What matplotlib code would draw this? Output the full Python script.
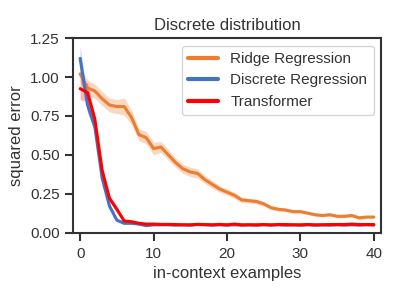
import matplotlib
matplotlib.use('Agg')
import matplotlib.pyplot as plt
import seaborn as sns
import numpy as np

sns.set_theme(style="ticks", context="notebook")
plt.rcParams['font.family'] = ['Liberation Sans', 'DejaVu Sans']

examples = list(range(41))
ridge = [1.02, 0.93, 0.91, 0.86, 0.82, 0.81, 0.81, 0.74, 0.63, 0.61,
         0.54, 0.55, 0.50, 0.45, 0.41, 0.39, 0.38, 0.34, 0.31, 0.28,
         0.26, 0.24, 0.21, 0.205, 0.20, 0.185, 0.16, 0.15, 0.145, 0.135,
         0.135, 0.125, 0.115, 0.11, 0.115, 0.105, 0.105, 0.11, 0.095, 0.10,
         0.10]
ridge_err = [0.05, 0.05, 0.045, 0.045, 0.045, 0.045, 0.055, 0.045, 0.04, 0.04,
             0.04, 0.035, 0.035, 0.03, 0.03, 0.03, 0.03, 0.025, 0.025, 0.02,
             0.02, 0.02, 0.018, 0.015, 0.015, 0.015, 0.013, 0.012, 0.012, 0.012,
             0.01, 0.01, 0.01, 0.01, 0.01, 0.01, 0.01, 0.01, 0.01, 0.01,
             0.01]
discrete = [1.12, 0.82, 0.68, 0.35, 0.17, 0.08, 0.06, 0.06, 0.055, 0.045,
            0.05, 0.05, 0.05, 0.048, 0.05, 0.048, 0.052, 0.05, 0.048, 0.05,
            0.048, 0.05, 0.048, 0.05, 0.048, 0.05, 0.048, 0.05, 0.048, 0.05,
            0.048, 0.05, 0.048, 0.05, 0.048, 0.05, 0.048, 0.05, 0.048, 0.05,
            0.048]
discrete_err = [0.08, 0.05, 0.035, 0.02, 0.015, 0.01, 0.008, 0.006, 0.005, 0.005,
                0.004, 0.004, 0.004, 0.004, 0.004, 0.004, 0.004, 0.004, 0.004, 0.004,
                0.004, 0.004, 0.004, 0.004, 0.004, 0.004, 0.004, 0.004, 0.004, 0.004,
                0.004, 0.004, 0.004, 0.004, 0.004, 0.004, 0.004, 0.004, 0.004, 0.004,
                0.004]
transformer = [0.925, 0.90, 0.73, 0.40, 0.22, 0.15, 0.075, 0.07, 0.06, 0.055,
               0.055, 0.053, 0.053, 0.052, 0.05, 0.05, 0.053, 0.052, 0.05, 0.053,
               0.05, 0.055, 0.05, 0.05, 0.05, 0.052, 0.05, 0.052, 0.052, 0.05,
               0.05, 0.052, 0.05, 0.05, 0.052, 0.052, 0.052, 0.055, 0.052, 0.052,
               0.052]
transformer_err = [0.07, 0.06, 0.03, 0.02, 0.02, 0.02, 0.008, 0.006, 0.005, 0.005,
                   0.004, 0.004, 0.004, 0.004, 0.004, 0.004, 0.004, 0.004, 0.004, 0.004,
                   0.004, 0.004, 0.004, 0.004, 0.004, 0.004, 0.004, 0.004, 0.004, 0.004,
                   0.004, 0.004, 0.004, 0.004, 0.004, 0.004, 0.004, 0.004, 0.004, 0.004,
                   0.004]

series = [
    ("Ridge Regression", ridge, ridge_err, "#ED7D31"),
    ("Discrete Regression", discrete, discrete_err, "#4472C4"),
    ("Transformer", transformer, transformer_err, "red"),
]

fig, ax = plt.subplots(figsize=(4, 3), dpi=100)
fig.subplots_adjust(left=0.182, right=0.953, bottom=0.222, top=0.873)

x = np.array(examples)
for label, y, err, c in series:
    y = np.array(y)
    err = np.array(err)
    ax.plot(x, y, color=c, lw=2.2, label=label)
    ax.fill_between(x, y - err, y + err, color=c, alpha=0.3, lw=0)

ax.set_xlim(-1, 41)
ax.set_ylim(-0.005, 1.25)
ax.set_xticks([0, 10, 20, 30, 40])
ax.set_yticks([0, 0.25, 0.5, 0.75, 1.0, 1.25])
ax.tick_params(labelsize=11, width=1.5, color="#333333", labelcolor="#333333")
for s in ax.spines.values():
    s.set_linewidth(1.5)
    s.set_color("#333333")
ax.set_xlabel("in-context examples", fontsize=12, color="#333333")
ax.set_ylabel("squared error", fontsize=12, color="#333333")
ax.set_title("Discrete distribution", fontsize=12, color="#333333")
leg = ax.legend(loc="upper right", fontsize=11)
for t in leg.get_texts():
    t.set_color("#333333")
for h in leg.get_lines():
    h.set_linewidth(3)

plt.savefig("out.png", dpi=100)
